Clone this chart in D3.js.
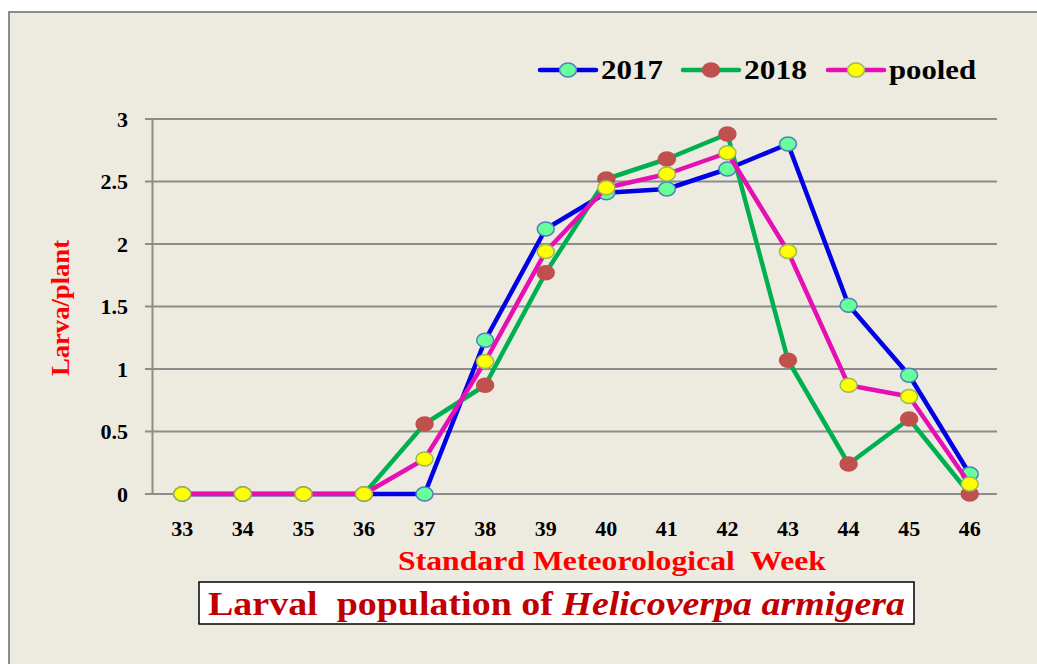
<!DOCTYPE html>
<html>
<head>
<meta charset="utf-8">
<script src="https://cdn.jsdelivr.net/npm/d3@7"></script>
<style>
  body { margin: 0; background: #ffffff; }
  text { font-family: "Liberation Serif", "Times New Roman", serif; font-weight: bold; }
</style>
</head>
<body>
<div id="lineChart"></div>
<script>
// weeks on the x axis
var weeks = ["33", "34", "35", "36", "37", "38", "39", "40", "41", "42", "43", "44", "45", "46"]
var larva2017 = [0, 0, 0, 0, 0, 1.23, 2.12, 2.41, 2.44, 2.60, 2.80, 1.51, 0.95, 0.16]
var larva2018 = [0, 0, 0, 0, 0.56, 0.87, 1.77, 2.52, 2.68, 2.88, 1.07, 0.24, 0.60, 0]
var larvaPooled = [0, 0, 0, 0, 0.28, 1.06, 1.94, 2.45, 2.56, 2.73, 1.94, 0.87, 0.78, 0.08]
var yTicks = [0, 0.5, 1, 1.5, 2, 2.5, 3]
var seriesNames = ["2017", "2018", "pooled"]

function drawChart() {

  let dimensions = {
    width: 1037,
    height: 664,
    margin: {
      top: 119,
      right: 40,
      bottom: 170,
      left: 152,
    },
  }
  dimensions.boundedWidth = 1000 - dimensions.margin.left
  dimensions.boundedHeight = 494 - dimensions.margin.top

  var series = [
    { name: seriesNames[0], values: larva2017, line: "#0000e6", fill: "#66ff99", stroke: "#4f81bd", textW: 62 },
    { name: seriesNames[1], values: larva2018, line: "#00b050", fill: "#c0504d", stroke: "#c0504d", textW: 63 },
    { name: seriesNames[2], values: larvaPooled, line: "#e60fb4", fill: "#ffff00", stroke: "#9bbb59", textW: 87 },
  ]

  var wrapper = d3.select("#lineChart")
    .append("svg")
    .attr("width", dimensions.width)
    .attr("height", dimensions.height)

  // beige chart area with grey frame
  wrapper.append("rect")
    .attr("x", 9)
    .attr("y", 12)
    .attr("width", dimensions.width + 10)
    .attr("height", dimensions.height + 10)
    .attr("fill", "#edeae0")
    .attr("stroke", "#8c8c8c")
    .attr("stroke-width", 2)

  var bounds = wrapper.append("g")
    .attr("transform", `translate(${dimensions.margin.left},${dimensions.margin.top})`)

  var xScale = d3.scaleBand()
    .domain(weeks)
    .range([0, dimensions.boundedWidth])

  var yScale = d3.scaleLinear()
    .domain([0, 3])
    .range([dimensions.boundedHeight, 0])

  // gridlines
  bounds.append("g")
    .selectAll("line")
    .data(yTicks)
    .join("line")
    .attr("x1", -7)
    .attr("x2", dimensions.boundedWidth - 3)
    .attr("y1", d => yScale(d))
    .attr("y2", d => yScale(d))
    .attr("stroke", "#8c8c8c")
    .attr("stroke-width", 2)

  var yAxisGenerator = d3.axisLeft()
    .scale(yScale)
    .tickValues(yTicks)
    .tickFormat(d => d)
    .tickSize(0)
    .tickPadding(24)

  var yAxis = bounds.append("g")
    .call(yAxisGenerator)
  yAxis.select(".domain")
    .attr("stroke", "#8c8c8c")
    .attr("stroke-width", 2)
  yAxis.selectAll("text")
    .attr("font-size", 22)
    .attr("fill", "#000")

  var xAxisGenerator = d3.axisBottom()
    .scale(xScale)
    .tickSize(0)
    .tickPadding(26)

  var xAxis = bounds.append("g")
    .attr("transform", `translate(0,${dimensions.boundedHeight})`)
    .call(xAxisGenerator)
  xAxis.select(".domain").remove()
  xAxis.selectAll("text")
    .attr("font-size", 22)
    .attr("fill", "#000")

  // lines and markers
  var lineGenerator = d3.line()
    .x((d, i) => xScale(weeks[i]) + xScale.bandwidth() / 2)
    .y(d => yScale(d))

  series.forEach(s => {
    bounds.append("path")
      .attr("d", lineGenerator(s.values))
      .attr("fill", "none")
      .attr("stroke", s.line)
      .attr("stroke-width", 4.5)
      .attr("stroke-linejoin", "round")

    bounds.append("g")
      .selectAll("ellipse")
      .data(s.values)
      .join("ellipse")
      .attr("cx", (d, i) => xScale(weeks[i]) + xScale.bandwidth() / 2)
      .attr("cy", d => yScale(d))
      .attr("rx", 8.5)
      .attr("ry", 7)
      .attr("fill", s.fill)
      .attr("stroke", s.stroke)
      .attr("stroke-width", 1.5)
  })

  // legend
  var legendX = [540, 683, 828]
  var legend = wrapper.append("g")
  series.forEach((s, i) => {
    var g = legend.append("g")
      .attr("transform", `translate(${legendX[i]},70)`)
    g.append("line")
      .attr("x1", 0)
      .attr("x2", 56)
      .attr("stroke", s.line)
      .attr("stroke-width", 4.5)
      .attr("stroke-linecap", "round")
    g.append("ellipse")
      .attr("cx", 28)
      .attr("rx", 8.5)
      .attr("ry", 7)
      .attr("fill", s.fill)
      .attr("stroke", s.stroke)
      .attr("stroke-width", 1.5)
    g.append("text")
      .attr("x", 61)
      .attr("y", 9)
      .attr("font-size", 27)
      .attr("textLength", s.textW)
      .attr("lengthAdjust", "spacingAndGlyphs")
      .text(s.name)
  })

  // axis titles
  wrapper.append("text")
    .attr("x", 612)
    .attr("y", 570)
    .attr("text-anchor", "middle")
    .attr("font-size", 28)
    .attr("fill", "#ff0000")
    .attr("textLength", 428)
    .attr("lengthAdjust", "spacingAndGlyphs")
    .text("Standard Meteorological\u00a0 Week")

  wrapper.append("text")
    .attr("transform", "translate(69,308) rotate(-90)")
    .attr("text-anchor", "middle")
    .attr("font-size", 26)
    .attr("fill", "#ff0000")
    .attr("textLength", 136)
    .attr("lengthAdjust", "spacingAndGlyphs")
    .text("Larva/plant")

  // title box
  wrapper.append("rect")
    .attr("x", 199)
    .attr("y", 582)
    .attr("width", 715)
    .attr("height", 42)
    .attr("fill", "#ffffff")
    .attr("stroke", "#000")
    .attr("stroke-width", 1.5)

  var title = wrapper.append("text")
    .attr("x", 208)
    .attr("y", 615)
    .attr("font-size", 34)
    .attr("fill", "#c00000")
    .attr("textLength", 697)
    .attr("lengthAdjust", "spacingAndGlyphs")
  title.append("tspan").text("Larval\u00a0 population of ")
  title.append("tspan").attr("font-style", "italic").text("Helicoverpa armigera")
}

drawChart()
</script>
</body>
</html>
